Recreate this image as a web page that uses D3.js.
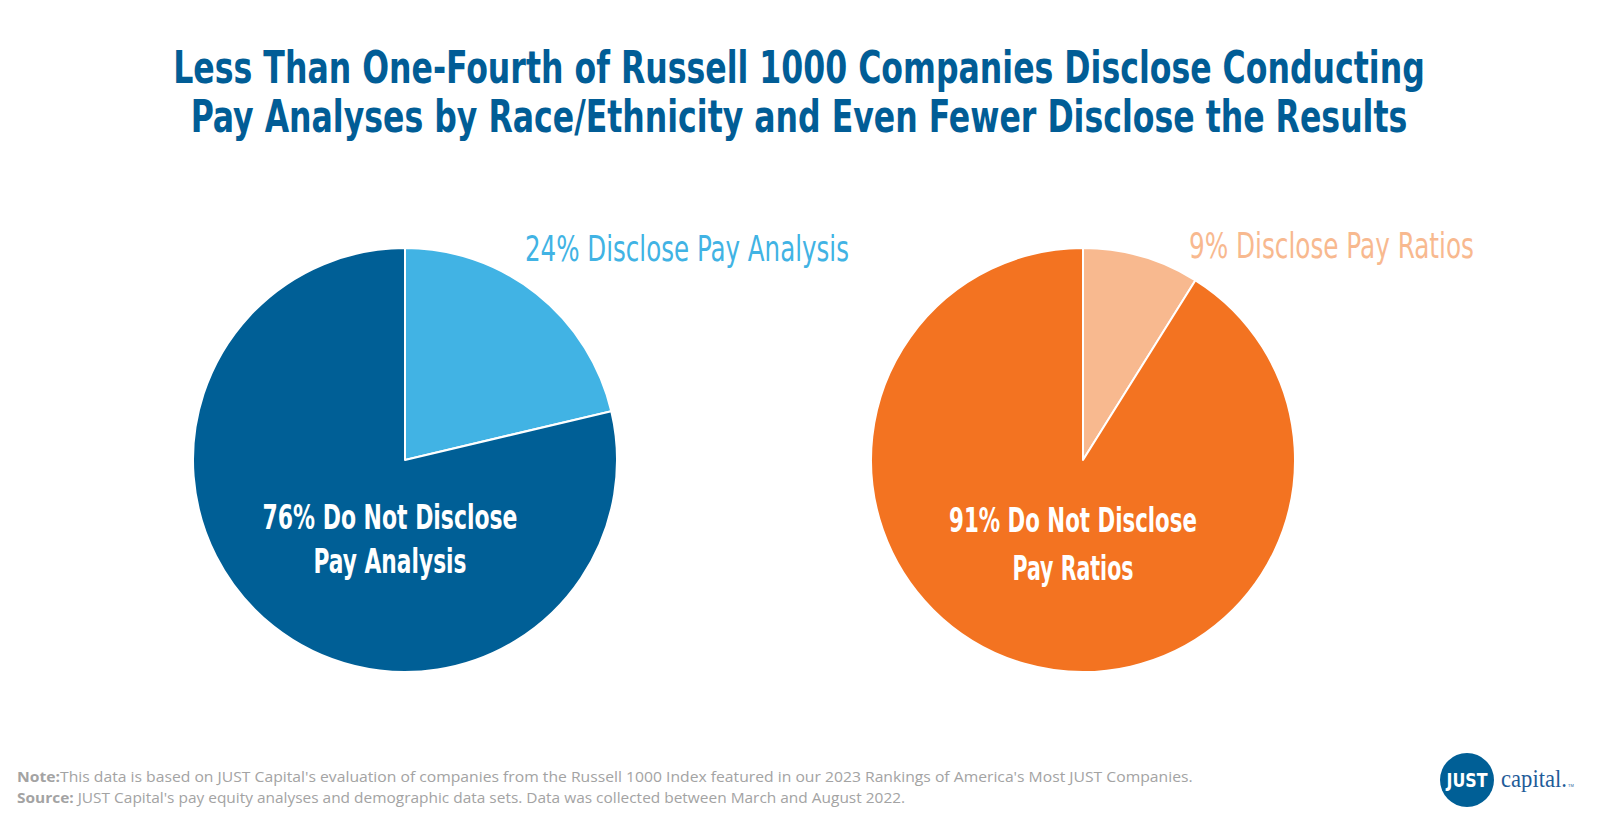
<!DOCTYPE html>
<html>

<head>
  <title>Pay Analyses by Race/Ethnicity</title>
  <script type="text/javascript" src="https://cdn.jsdelivr.net/npm/d3@7"></script>
  <style>
    body {
      margin: 0;
      background-color: #ffffff;
    }

    svg {
      display: block;
    }

    text.cond {
      font-family: "Liberation Sans Narrow", "DejaVu Sans Condensed", "Roboto", sans-serif;
    }

    text.foot {
      font-family: "Open Sans", "Noto Sans", sans-serif;
      font-size: 14.5px;
      fill: #a3a3a3;
    }
  </style>
</head>

<body>
  <script type="text/javascript">

    // Data
    const titleLines = [
      "Less Than One-Fourth of Russell 1000 Companies Disclose Conducting",
      "Pay Analyses by Race/Ethnicity and Even Fewer Disclose the Results"
    ];
    const pieNames = ["Pay Analysis", "Pay Ratios"];
    // slice sizes as they are drawn (percent)
    const discloseValues = [21.3, 8.9];
    const notDiscloseValues = [78.7, 91.1];
    const outerLabels = ["24% Disclose Pay Analysis", "9% Disclose Pay Ratios"];
    const innerLabels = [
      ["76% Do Not Disclose", "Pay Analysis"],
      ["91% Do Not Disclose", "Pay Ratios"]
    ];
    const noteLines = [
      ["Note:", "This data is based on JUST Capital's evaluation of companies from the Russell 1000 Index featured in our 2023 Rankings of America's Most JUST Companies."],
      ["Source:", " JUST Capital's pay equity analyses and demographic data sets. Data was collected between March and August 2022."]
    ];

    // Colours
    const discloseColors = ["#41b3e4", "#f8b98f"];
    const notDiscloseColors = ["#005f96", "#f37321"];
    const titleColor = "#015d96";

    // Width og height
    const w = 1600;
    const h = 827;

    const svg = d3.select("body")
      .append("svg")
      .attr("width", w)
      .attr("height", h);

    svg.append("rect")
      .attr("width", w)
      .attr("height", h)
      .attr("fill", "#ffffff");

    // squeeze a text horizontally so it gets the width seen in the picture
    function fitWidth(sel, x, y, width, anchor) {
      sel.attr("x", 0).attr("y", 0).attr("text-anchor", anchor);
      const len = sel.node().getComputedTextLength();
      const sx = width / len;
      sel.attr("transform", "translate(" + x + "," + y + ") scale(" + sx + ",1)");
    }

    // Title
    const titleWidths = [1252, 1217];
    const titleBase = [83, 132];
    titleLines.forEach(function (line, i) {
      const t = svg.append("text")
        .attr("class", "cond")
        .attr("font-size", "45px")
        .attr("font-weight", "bold")
        .attr("fill", titleColor)
        .text(line);
      fitWidth(t, 799, titleBase[i], titleWidths[i], "middle");
    });

    // Pies
    const centerX = d3.scalePoint()
      .domain(pieNames)
      .range([405, 1083]);
    const centerY = 460;
    const radius = 212;

    const pie = d3.pie()
      .sort(null)
      .value(function (d) { return d.value; });

    const arc = d3.arc()
      .innerRadius(0)
      .outerRadius(radius);

    pieNames.forEach(function (name, i) {
      const slices = [
        { key: "disclose", value: discloseValues[i], color: discloseColors[i] },
        { key: "not", value: notDiscloseValues[i], color: notDiscloseColors[i] }
      ];

      const g = svg.append("g")
        .attr("transform", "translate(" + centerX(name) + "," + centerY + ")");

      g.selectAll("path")
        .data(pie(slices))
        .enter()
        .append("path")
        .attr("d", arc)
        .attr("fill", function (d) { return d.data.color; })
        .attr("stroke", "#ffffff")
        .attr("stroke-width", 2)
        .attr("stroke-linejoin", "round");
    });

    // Outer labels
    const outerPos = [[525, 261, 324], [1189, 258, 285]];
    outerLabels.forEach(function (label, i) {
      const t = svg.append("text")
        .attr("class", "cond")
        .attr("font-size", "36px")
        .attr("fill", discloseColors[i])
        .text(label);
      fitWidth(t, outerPos[i][0], outerPos[i][1], outerPos[i][2], "start");
    });

    // Inner labels
    const innerPos = [
      [[390, 529, 255], [390, 573, 153]],
      [[1073, 532, 248], [1073, 580, 121]]
    ];
    innerLabels.forEach(function (lines, i) {
      lines.forEach(function (line, j) {
        const p = innerPos[i][j];
        const t = svg.append("text")
          .attr("class", "cond")
          .attr("font-size", "33px")
          .attr("font-weight", "bold")
          .attr("fill", "#ffffff")
          .text(line);
        fitWidth(t, p[0], p[1], p[2], "middle");
      });
    });

    // Note og source
    const noteBase = [782, 803];
    const noteWidths = [1176, 889];
    noteLines.forEach(function (parts, i) {
      const t = svg.append("text")
        .attr("class", "foot");
      t.append("tspan")
        .attr("font-weight", "bold")
        .text(parts[0]);
      t.append("tspan")
        .text(parts[1]);
      fitWidth(t, 17, noteBase[i], noteWidths[i], "start");
    });

    // Logo
    const logo = svg.append("g");
    logo.append("circle")
      .attr("cx", 1467)
      .attr("cy", 780)
      .attr("r", 27)
      .attr("fill", "#005f96");
    const just = logo.append("text")
      .attr("class", "cond")
      .attr("font-size", "20px")
      .attr("font-weight", "bold")
      .attr("fill", "#ffffff")
      .text("JUST");
    fitWidth(just, 1467, 787, 41, "middle");
    const cap = logo.append("text")
      .attr("font-family", "'Liberation Serif', 'DejaVu Serif', serif")
      .attr("font-size", "25px")
      .attr("fill", "#1f5c99")
      .text("capital.");
    fitWidth(cap, 1501, 787, 66, "start");
    logo.append("text")
      .attr("font-family", "'Liberation Sans', sans-serif")
      .attr("font-size", "4px")
      .attr("fill", "#1f5c99")
      .attr("x", 1568)
      .attr("y", 787)
      .text("TM");

  </script>
</body>

</html>
